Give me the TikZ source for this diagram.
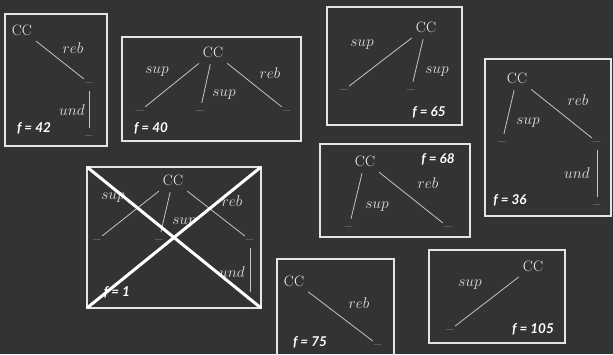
\documentclass[tikz,border=0pt]{standalone}
\usepackage{fix-cm}
\usepackage{fontspec}
\newfontfamily\flab{Lato}
\definecolor{bg}{HTML}{333333}
\definecolor{boxc}{HTML}{E4E4E4}
\definecolor{txt}{HTML}{F2F2F2}
\definecolor{labc}{HTML}{DEDEDE}
\definecolor{edgec}{HTML}{C4C4C4}
\definecolor{dashc}{HTML}{CCCCCC}
\tikzset{
  box/.style={draw=boxc, line width=2.7pt},
  cc/.style={text=txt, font=\fontsize{15}{15}\selectfont, minimum height=24pt, minimum width=28pt, inner sep=0pt},
  dsh/.style={text=dashc, font=\fontsize{16.5}{17}\selectfont, inner sep=0pt, text height=12.3pt, text depth=3.7pt, minimum width=10pt},
  lab/.style={text=labc, font=\fontsize{15.5}{16}\selectfont, inner sep=0pt},
  fl/.style={text=white, font=\flab\bfseries\itshape\fontsize{13.5}{14}\selectfont, inner sep=0pt},
  edge/.style={draw=edgec, line width=0.8pt},
  crossline/.style={draw=white, line width=3pt}
}
\begin{document}
\begin{tikzpicture}[x=1pt,y=-1pt]
\fill[bg] (0,0) rectangle (613,354);
\useasboundingbox (0,0) rectangle (613,354);
\clip (0,0) rectangle (613,354);

% Box 1
\draw[box] (5,14) rectangle (107,146);
\node[cc] (c1) at (22,30) {CC};
\node[dsh] (d11) at (89,83) {–};
\node[dsh] (d12) at (89,136) {–};
\draw[edge] (c1) -- (d11);
\draw[edge] (d11) -- (d12);
\node[lab] (l11) at (73,48) {$reb$};
\node[lab] (l12) at (72,110) {$und$};
\node[fl] (f1) at (34,128) {f = 42};

% Box 2
\draw[box] (122,37) rectangle (301,141);
\node[cc] (c2) at (213,52) {CC};
\node[dsh] (d21) at (140,111) {–};
\node[dsh] (d22) at (200,111) {–};
\node[dsh] (d23) at (287,111) {–};
\draw[edge] (c2) -- (d21);
\draw[edge] (c2) -- (d22);
\draw[edge] (c2) -- (d23);
\node[lab] (l21) at (157,72) {$sup$};
\node[lab] (l22) at (224,95) {$sup$};
\node[lab] (l23) at (270,73) {$reb$};
\node[fl] (f2) at (151,128) {f = 40};

% Box 3
\draw[box] (327,7) rectangle (462,125);
\node[cc] (c3) at (426,27) {CC};
\node[dsh] (d31) at (344,90) {–};
\node[dsh] (d32) at (411,90) {–};
\draw[edge] (c3) -- (d31);
\draw[edge] (c3) -- (d32);
\node[lab] (l31) at (362,45) {$sup$};
\node[lab] (l32) at (437,72) {$sup$};
\node[fl] (f3) at (429,112) {f = 65};

% Box 4
\draw[box] (485,59) rectangle (611,216);
\node[cc] (c4) at (517,78) {CC};
\node[dsh] (d41) at (502,142) {–};
\node[dsh] (d42) at (597,142) {–};
\node[dsh] (d43) at (597,205) {–};
\draw[edge] (c4) -- (d41);
\draw[edge] (c4) -- (d42);
\draw[edge] (d42) -- (d43);
\node[lab] (l41) at (528,123) {$sup$};
\node[lab] (l42) at (578,100) {$reb$};
\node[lab] (l43) at (577,173) {$und$};
\node[fl] (f4) at (510,200) {f = 36};

% Box 5
\draw[box] (320,144) rectangle (470,237);
\node[cc] (c5) at (365,161) {CC};
\node[dsh] (d51) at (349,227) {–};
\node[dsh] (d52) at (448,227) {–};
\draw[edge] (c5) -- (d51);
\draw[edge] (c5) -- (d52);
\node[lab] (l51) at (377,207) {$sup$};
\node[lab] (l52) at (428,183) {$reb$};
\node[fl] (f5) at (438,159) {f = 68};

% Box 6 (crossed)
\draw[box] (87,167) rectangle (261,308);
\node[cc] (c6) at (173,180) {CC};
\node[dsh] (d61) at (97,240) {–};
\node[dsh] (d62) at (159,240) {–};
\node[dsh] (d63) at (250,240) {–};
\node[dsh] (d64) at (250,300) {–};
\draw[edge] (c6) -- (d61);
\draw[edge] (c6) -- (d62);
\draw[edge] (c6) -- (d63);
\draw[edge] (d63) -- (d64);
\node[lab] (l61) at (113,198) {$sup$};
\node[lab] (l62) at (184,223) {$sup$};
\node[lab] (l63) at (232,201) {$reb$};
\node[lab] (l64) at (232,272) {$und$};
\node[fl] (f6) at (117,292) {f = 1};
\coordinate (k1) at (87,167);
\coordinate (k2) at (261,308);
\coordinate (k3) at (261,167);
\coordinate (k4) at (87,308);
\draw[crossline] (k1) -- (k2);
\draw[crossline] (k3) -- (k4);

% Box 7
\draw[box] (277,259) rectangle (394,362);
\node[cc] (c7) at (294,281) {CC};
\node[dsh] (d71) at (378,345) {–};
\draw[edge] (c7) -- (d71);
\node[lab] (l71) at (359,303) {$reb$};
\node[fl] (f7) at (310,342) {f = 75};

% Box 8
\draw[box] (429,250) rectangle (565,343);
\node[cc] (c8) at (533,266) {CC};
\node[dsh] (d81) at (450,330) {–};
\draw[edge] (c8) -- (d81);
\node[lab] (l81) at (470,285) {$sup$};
\node[fl] (f8) at (533,329) {f = 105};
\end{tikzpicture}
\end{document}
